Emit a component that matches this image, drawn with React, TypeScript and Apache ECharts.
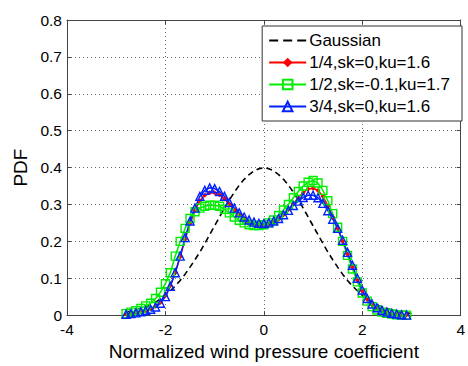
import React, { useEffect, useRef } from "react";
import * as echarts from "echarts";

// Gaussian reference curve
const gaussX = [-2.8,-2.7,-2.6,-2.5,-2.4,-2.3,-2.2,-2.1,-2.0,-1.9,-1.8,-1.7,-1.6,-1.5,-1.4,-1.3,-1.2,-1.1,-1.0,-0.9,-0.8,-0.7,-0.6,-0.5,-0.4,-0.3,-0.2,-0.1,0,0.1,0.2,0.3,0.4,0.5,0.6,0.7,0.8,0.9,1.0,1.1,1.2,1.3,1.4,1.5,1.6,1.7,1.8,1.9,2.0,2.1,2.2,2.3,2.4,2.5,2.6,2.7,2.8,2.9,3.0];
const gaussY = [0.008,0.010,0.014,0.018,0.022,0.028,0.035,0.044,0.054,0.066,0.079,0.094,0.111,0.130,0.150,0.171,0.194,0.218,0.242,0.266,0.290,0.312,0.333,0.352,0.368,0.381,0.391,0.397,0.399,0.397,0.391,0.381,0.368,0.352,0.333,0.312,0.290,0.266,0.242,0.218,0.194,0.171,0.150,0.130,0.111,0.094,0.079,0.066,0.054,0.044,0.035,0.028,0.022,0.018,0.014,0.010,0.008,0.006,0.004];

const curveX = [-2.8,-2.7,-2.6,-2.5,-2.4,-2.3,-2.2,-2.1,-2.0,-1.9,-1.8,-1.7,-1.6,-1.5,-1.4,-1.3,-1.2,-1.1,-1.0,-0.9,-0.8,-0.7,-0.6,-0.5,-0.4,-0.3,-0.2,-0.1,0,0.1,0.2,0.3,0.4,0.5,0.6,0.7,0.8,0.9,1.0,1.1,1.2,1.3,1.4,1.5,1.6,1.7,1.8,1.9,2.0,2.1,2.2,2.3,2.4,2.5,2.6,2.7,2.8,2.9];

// 1/4, sk=0, ku=1.6 (red)
const quarterY = [0.002,0.004,0.006,0.009,0.012,0.017,0.024,0.035,0.053,0.080,0.115,0.158,0.205,0.248,0.283,0.310,0.325,0.332,0.332,0.326,0.315,0.300,0.285,0.271,0.260,0.251,0.245,0.242,0.242,0.245,0.251,0.260,0.272,0.286,0.302,0.318,0.332,0.342,0.344,0.338,0.322,0.296,0.265,0.235,0.200,0.165,0.130,0.095,0.065,0.043,0.028,0.018,0.012,0.008,0.005,0.003,0.001,0.000];

// 1/2, sk=-0.1, ku=1.7 (green)
const halfY = [0.004,0.008,0.012,0.018,0.025,0.032,0.045,0.062,0.085,0.115,0.160,0.200,0.235,0.262,0.280,0.290,0.295,0.298,0.298,0.295,0.287,0.277,0.266,0.257,0.250,0.245,0.243,0.243,0.245,0.250,0.258,0.270,0.285,0.300,0.318,0.335,0.350,0.360,0.365,0.358,0.338,0.310,0.275,0.238,0.200,0.162,0.125,0.090,0.060,0.038,0.023,0.014,0.008,0.005,0.003,0.001,0.000,0.000];

// 3/4, sk=0, ku=1.6 (blue)
const threeQuarterY = [0.002,0.004,0.006,0.009,0.012,0.016,0.022,0.032,0.050,0.078,0.115,0.160,0.210,0.255,0.290,0.322,0.338,0.345,0.343,0.335,0.322,0.305,0.290,0.277,0.266,0.258,0.252,0.249,0.248,0.250,0.255,0.262,0.272,0.284,0.297,0.309,0.319,0.325,0.325,0.318,0.303,0.283,0.260,0.235,0.203,0.170,0.135,0.100,0.068,0.045,0.030,0.020,0.013,0.008,0.005,0.003,0.001,0.000];

const seriesNames = ["Gaussian", "1/4,sk=0,ku=1.6", "1/2,sk=-0.1,ku=1.7", "3/4,sk=0,ku=1.6"];
const xTicks = { min: -4, max: 4, interval: 2 };
const yTicks = { min: 0, max: 0.8, interval: 0.1 };

const FONT = "Liberation Sans, Arial, sans-serif";

const pairs = (xs: number[], ys: number[]) => xs.map((x, i) => [x, ys[i]]);

export default function App() {
  const ref = useRef<HTMLDivElement>(null);
  useEffect(() => {
    if (!ref.current) return;
    const chart = echarts.init(ref.current, undefined, { renderer: "svg" });
    const hiddenAxis = {
      axisLabel: { show: false },
      splitLine: { show: false },
      axisLine: { show: true, onZero: false, lineStyle: { color: "#444", width: 1 } },
      axisTick: { show: true, inside: true, length: 4, lineStyle: { color: "#444" } },
    };
    chart.setOption({
      animation: false,
      backgroundColor: "#fff",
      textStyle: { fontFamily: FONT },
      grid: { left: 67, right: 6, top: 20, bottom: 44, show: false },
      legend: {
        orient: "vertical",
        right: 6,
        top: 26,
        backgroundColor: "#fff",
        borderColor: "#333",
        borderWidth: 1,
        padding: [6, 12, 6, 6],
        itemWidth: 37,
        itemHeight: 12,
        itemGap: 5,
        textStyle: { fontSize: 17, color: "#000", fontFamily: FONT, padding: [0, 0, 0, -2] },
        data: [
          { name: seriesNames[0], icon: "path://M0,0H9V2H0Z M14,0H23V2H14Z M28,0H37V2H28Z" },
          seriesNames[1],
          seriesNames[2],
          seriesNames[3],
        ],
      },
      xAxis: [
        {
          type: "value",
          ...xTicks,
          name: "Normalized wind pressure coefficient",
          nameLocation: "middle",
          nameGap: 23,
          nameTextStyle: { fontSize: 19, color: "#000", fontFamily: FONT },
          axisLine: { show: true, onZero: false, lineStyle: { color: "#444", width: 1 } },
          axisTick: { show: true, inside: true, length: 4, lineStyle: { color: "#444" } },
          axisLabel: { fontSize: 15.5, color: "#000", margin: 6, fontFamily: FONT },
          splitLine: { show: true, lineStyle: { color: "#666", type: [1, 3], width: 1 } },
        },
        { type: "value", position: "top", ...xTicks, ...hiddenAxis },
      ],
      yAxis: [
        {
          type: "value",
          ...yTicks,
          name: "PDF",
          nameLocation: "middle",
          nameGap: 37,
          nameTextStyle: { fontSize: 19, color: "#000", fontFamily: FONT },
          axisLine: { show: true, onZero: false, lineStyle: { color: "#444", width: 1 } },
          axisTick: { show: true, inside: true, length: 4, lineStyle: { color: "#444" } },
          axisLabel: { fontSize: 15.5, color: "#000", margin: 5, fontFamily: FONT },
          splitLine: { show: true, lineStyle: { color: "#666", type: [1, 3], width: 1 } },
        },
        { type: "value", position: "right", ...yTicks, ...hiddenAxis },
      ],
      series: [
        {
          name: seriesNames[0],
          type: "line",
          data: pairs(gaussX, gaussY),
          showSymbol: false,
          symbol: "none",
          lineStyle: { color: "#000", width: 1.6, type: [6, 4] },
          itemStyle: { color: "#000" },
        },
        {
          name: seriesNames[1],
          type: "line",
          data: pairs(curveX, quarterY),
          symbol: "diamond",
          symbolSize: 5,
          lineStyle: { color: "#ff0000", width: 1.5 },
          itemStyle: { color: "#ff0000" },
        },
        {
          name: seriesNames[2],
          type: "line",
          data: pairs(curveX, halfY),
          symbol: "rect",
          symbolSize: 8,
          lineStyle: { color: "#00ee00", width: 1.5 },
          itemStyle: { color: "rgba(0,0,0,0)", borderColor: "#00ee00", borderWidth: 1.4 },
        },
        {
          name: seriesNames[3],
          type: "line",
          data: pairs(curveX, threeQuarterY),
          symbol: "triangle",
          symbolSize: 8,
          lineStyle: { color: "#0022ff", width: 1.5 },
          itemStyle: { color: "rgba(0,0,0,0)", borderColor: "#0022ff", borderWidth: 1.4 },
        },
      ],
    });
    return () => chart.dispose();
  }, []);
  return (
    <div
      ref={ref}
      style={{ position: "fixed", left: 0, top: 0, width: 468, height: 366, background: "#fff" }}
    />
  );
}
